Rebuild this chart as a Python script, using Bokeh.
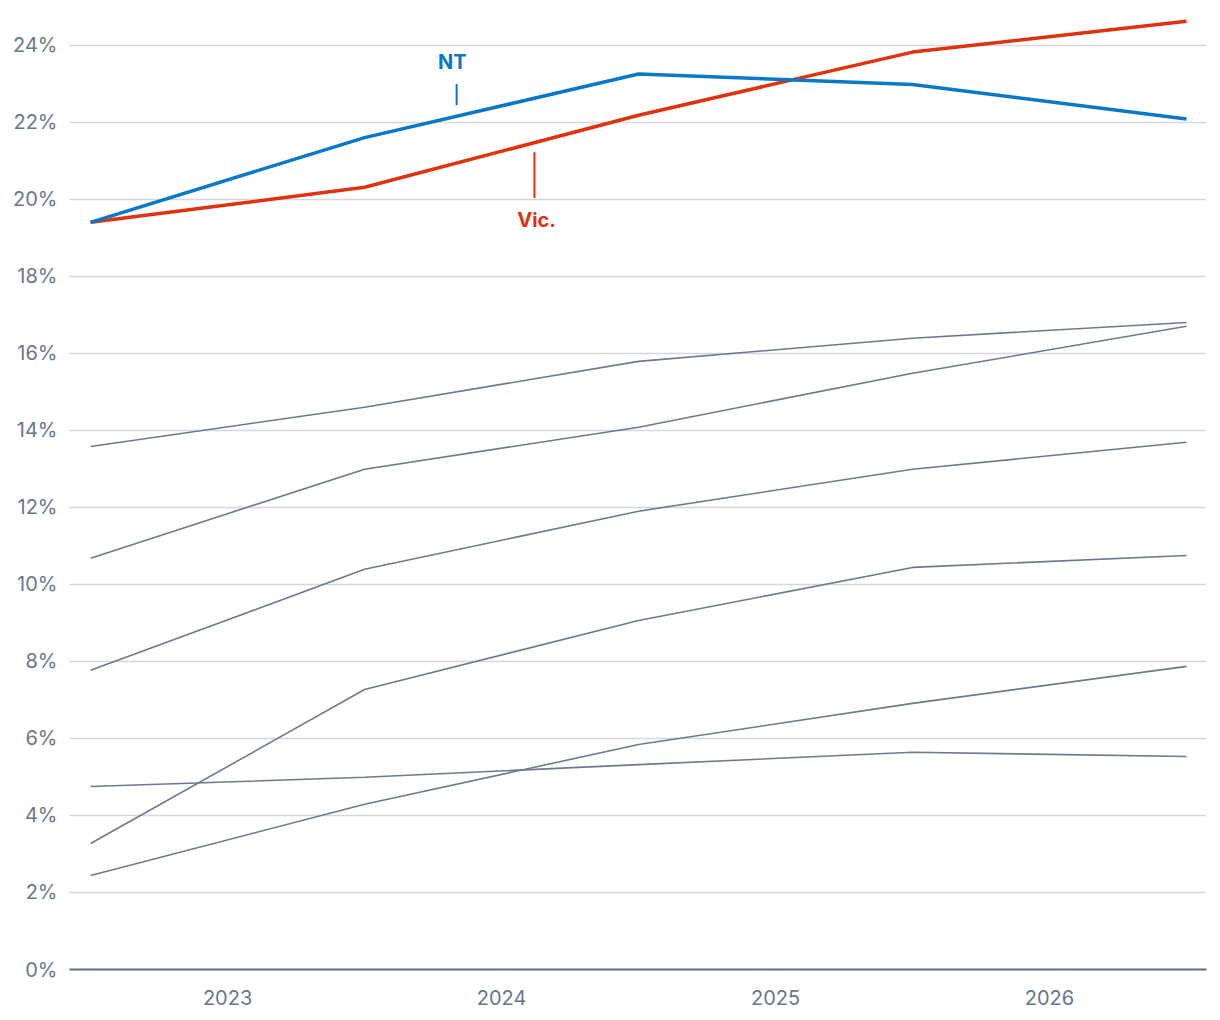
from bokeh.plotting import figure
from bokeh.models import FixedTicker, CustomJSTickFormatter, Range1d
from bokeh.embed import file_html
from bokeh.resources import INLINE
from bokeh.core.properties import value

# Data
years = [2022.5, 2023.5, 2024.5, 2025.5, 2026.5]
tick_years = [2023, 2024, 2025, 2026]
nt = [19.4, 21.6, 23.25, 22.98, 22.08]
vic = [19.4, 20.31, 22.18, 23.82, 24.62]
others = [
    [13.58, 14.6, 15.79, 16.39, 16.8],
    [10.68, 12.99, 14.08, 15.48, 16.7],
    [7.77, 10.39, 11.9, 12.99, 13.69],
    [3.27, 7.27, 9.06, 10.44, 10.75],
    [4.75, 4.99, 5.32, 5.64, 5.53],
    [2.44, 4.29, 5.84, 6.91, 7.87],
]
y_ticks = [0, 2, 4, 6, 8, 10, 12, 14, 16, 18, 20, 22, 24]

FONT = "Inter"
TICK_COLOR = "#68778d"
GREY = "#6b7a8f"
BLUE = "#0a78c8"
RED = "#e2310e"

p = figure(width=1212, height=1014, output_backend="svg", toolbar_location=None,
           x_range=Range1d(2022.423, 2026.573), y_range=Range1d(0, 24.9),
           min_border_left=69, min_border_right=6, min_border_top=10, min_border_bottom=45)
p.outline_line_color = None
p.background_fill_color = "white"
p.border_fill_color = "white"

p.ygrid.ticker = FixedTicker(ticks=y_ticks)
p.ygrid.grid_line_color = "#d3d8e0"
p.ygrid.grid_line_width = 1.5
p.xgrid.grid_line_color = None

p.yaxis.ticker = FixedTicker(ticks=y_ticks)
p.yaxis.formatter = CustomJSTickFormatter(code="return tick + '%';")
p.yaxis.axis_line_color = None
p.yaxis.major_tick_line_color = None
p.yaxis.minor_tick_line_color = None
p.yaxis.major_label_text_font = FONT
p.yaxis.major_label_text_font_size = "20px"
p.yaxis.major_label_text_color = TICK_COLOR
p.yaxis.major_label_standoff = 6

p.xaxis.ticker = FixedTicker(ticks=tick_years)
p.xaxis.formatter = CustomJSTickFormatter(code="return tick.toString();")
p.xaxis.axis_line_color = "#5f6e84"
p.xaxis.axis_line_width = 2
p.xaxis.major_tick_line_color = None
p.xaxis.minor_tick_line_color = None
p.xaxis.major_label_text_font = FONT
p.xaxis.major_label_text_font_size = "20px"
p.xaxis.major_label_text_color = TICK_COLOR
p.xaxis.major_label_standoff = 14

for s in others:
    p.line(years, s, line_color=GREY, line_width=1.6)

p.line(years, vic, line_color=RED, line_width=3.5)
p.line(years, nt, line_color=BLUE, line_width=3.5)

# annotations
p.segment(x0=[2023.836], y0=[22.99], x1=[2023.836], y1=[22.44], line_color=BLUE, line_width=2)
p.text(x=[2023.82], y=[23.56], text=["NT"], text_font=value(FONT), text_font_style="bold",
       text_font_size="20px", text_color=BLUE, text_align="center", text_baseline="middle")
p.segment(x0=[2024.12], y0=[21.22], x1=[2024.12], y1=[20.03], line_color=RED, line_width=2)
p.text(x=[2024.128], y=[19.45], text=["Vic."], text_font=value(FONT), text_font_style="bold",
       text_font_size="20px", text_color=RED, text_align="center", text_baseline="middle")

open("out.html", "w").write(file_html(p, INLINE))
